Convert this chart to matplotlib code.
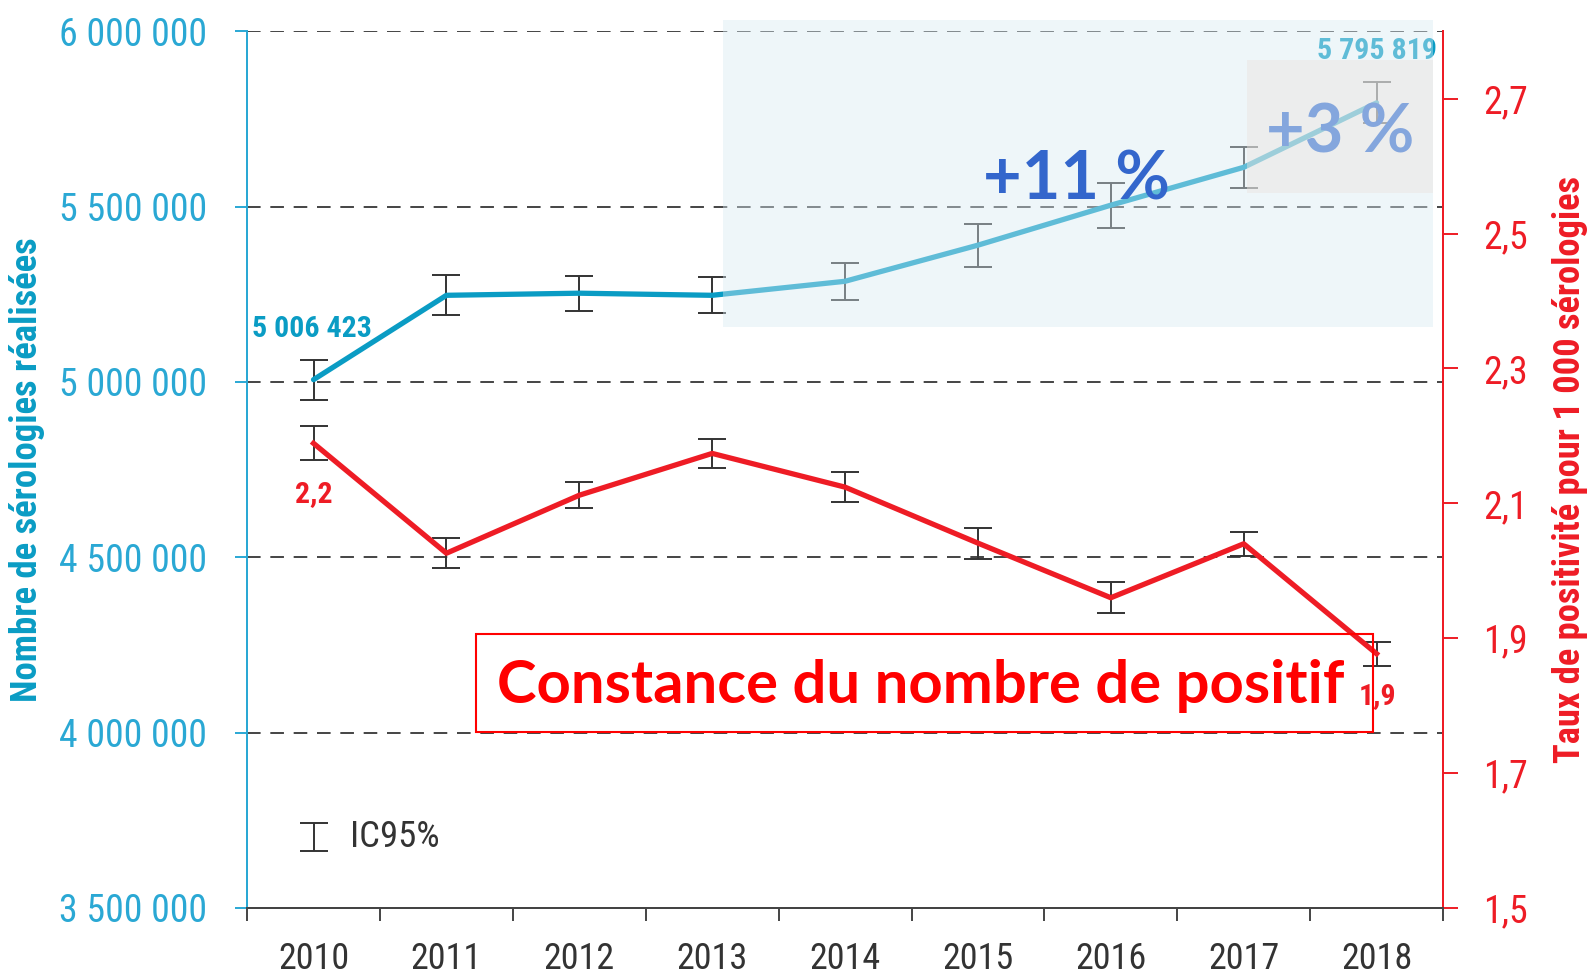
import numpy as np
import matplotlib.pyplot as plt
from matplotlib import font_manager
from matplotlib.patches import Rectangle
from matplotlib.ticker import FuncFormatter

# police étroite si disponible, sinon Liberation Sans un peu plus petite
noms = {f.name for f in font_manager.fontManager.ttflist}
choix = [('Roboto Condensed', 1.0), ('Liberation Sans Narrow', 1.0),
         ('Liberation Sans', 0.84)]
police, k = next(((n, f) for n, f in choix if n in noms), ('DejaVu Sans', 0.78))
plt.rcParams['font.family'] = [police, 'DejaVu Sans']

# données
annees = ['2010', '2011', '2012', '2013', '2014', '2015', '2016', '2017', '2018']
nb_serologies = [5006423, 5247000, 5253000, 5247000, 5287000, 5390000, 5504000, 5612000, 5795819]
ic_serologies = [57000, 57000, 50000, 51000, 53000, 61000, 64000, 58000, 58000]
taux_positivite = [2.189, 2.026, 2.112, 2.174, 2.124, 2.041, 1.960, 2.040, 1.877]
ic_taux = [0.025, 0.022, 0.019, 0.021, 0.022, 0.023, 0.023, 0.018, 0.018]
ticks_gauche = [3500000, 4000000, 4500000, 5000000, 5500000, 6000000]
ticks_droite = [1.5, 1.7, 1.9, 2.1, 2.3, 2.5, 2.7]

bleu = '#0a9cc4'
bleu_axe = '#2aa8d4'
rouge = '#ee1c25'
gris = '#333333'

x = np.arange(len(annees))

fig = plt.figure(figsize=(15.91, 9.76), dpi=100)
ax = fig.add_axes([0.1553, 0.0697, 0.7517, 0.8983])
ax2 = ax.twinx()

# grille pointillée
for v in ticks_gauche[1:]:
    ax.axhline(v, color='#444444', lw=1.4, ls=(0, (7, 5)), zorder=1)

# courbe bleue (nombre de sérologies)
ax.plot(x, nb_serologies, color=bleu, lw=3.8, zorder=3, solid_capstyle='round')
ax.errorbar(x, nb_serologies, yerr=ic_serologies, fmt='none', ecolor=gris,
            elinewidth=1.4, capsize=10, capthick=1.4, zorder=2)
ax.text(x[0] - 0.462, nb_serologies[0] + 144000, '5 006 423', color=bleu,
        fontsize=21.5 * k, fontweight='bold', ha='left', va='center')
ax.text(x[-1] + 0.454, nb_serologies[-1] + 147000, '5 795 819', color=bleu,
        fontsize=21.5 * k, fontweight='bold', ha='right', va='center', clip_on=False)

# courbe rouge (taux de positivité)
ax2.plot(x, taux_positivite, color=rouge, lw=3.8, zorder=3)
ax2.errorbar(x, taux_positivite, yerr=ic_taux, fmt='none', ecolor=gris,
             elinewidth=1.4, capsize=10, capthick=1.4, zorder=2)
ax2.text(x[0], taux_positivite[0] - 0.075, '2,2', color=rouge, fontsize=21.5 * k,
         fontweight='bold', ha='center', va='center')
ax2.text(x[-1] + 0.01, taux_positivite[-1] - 0.063, '1,9', color=rouge, fontsize=21.5 * k,
         fontweight='bold', ha='center', va='center')

# axes
ax.set_xlim(-0.5, 8.5)
ax.set_ylim(3500000, 6000000)
ax2.set_ylim(1.5, 2.8)

ax.set_yticks(ticks_gauche)
ax.yaxis.set_major_formatter(FuncFormatter(lambda v, p: f'{int(v):,}'.replace(',', ' ')))
ax.tick_params(axis='y', colors=bleu_axe, labelsize=27.3 * k, length=9, width=1.4, pad=20)
ax2.set_yticks(ticks_droite)
ax2.yaxis.set_major_formatter(FuncFormatter(lambda v, p: f'{v:.1f}'.replace('.', ',')))
ax2.tick_params(axis='y', colors=rouge, labelsize=27.3 * k, length=11, width=1.4, pad=18)

ax.set_xticks(np.arange(-0.5, 9.0, 1.0))
ax.set_xticklabels([])
ax.set_xticks(x, minor=True)
ax.set_xticklabels(annees, minor=True)
ax.tick_params(axis='x', which='major', length=9, width=1.4, color='#444444')
ax.tick_params(axis='x', which='minor', length=0, labelsize=26 * k, labelcolor=gris, pad=24)

for a in (ax, ax2):
    a.spines['top'].set_visible(False)
    a.spines['left'].set_color(bleu_axe)
    a.spines['right'].set_color(rouge)
    a.spines['bottom'].set_color('#444444')
    for s in a.spines.values():
        s.set_linewidth(1.4)

ax.set_ylabel('Nombre de sérologies réalisées', color=bleu, fontsize=26.5 * k,
              fontweight='bold')
ax.yaxis.set_label_coords(-0.169, 0.5)
ax2.set_ylabel('Taux de positivité pour 1 000 sérologies', color=rouge, fontsize=26.3 * k,
               fontweight='bold', rotation=90)
ax2.yaxis.set_label_coords(1.091, 0.5)

# légende IC95%
ax.errorbar([0.056], [0.081], yerr=[0.016], fmt='none', ecolor=gris, elinewidth=1.4,
            capsize=10, capthick=1.4, transform=ax.transAxes, clip_on=False)
ax.text(0.086, 0.081, 'IC95%', transform=ax.transAxes, color=gris, fontsize=26.5 * k,
        ha='left', va='center')

# zones d'annotation superposées
ax2.add_patch(Rectangle((3.08, 5156000), 8.424 - 3.08, 6031000 - 5156000,
                        transform=ax.transData, facecolor='#d7eaf3', alpha=0.42,
                        edgecolor='none', zorder=10, clip_on=False))
ax2.text(5.745, 5521000, '+11 %', transform=ax.transData, color='#3366cc',
         fontsize=48, fontweight='bold', family='Lato', ha='center', va='baseline',
         zorder=11)
ax2.add_patch(Rectangle((7.024, 5538000), 8.424 - 7.024, 5917000 - 5538000,
                        transform=ax.transData, facecolor='#eae4df', alpha=0.45,
                        edgecolor='none', zorder=12, clip_on=False))
ax2.text(7.724, 5655000, '+3 %', transform=ax.transData, color='#84a6dd',
         fontsize=48, fontweight='bold', family='Lato', ha='center', va='baseline',
         zorder=13, clip_on=False)

ax2.add_patch(Rectangle((1.223, 4001700), 7.973 - 1.223, 4281000 - 4001700,
                        transform=ax.transData, facecolor='none', edgecolor='#ff0000',
                        lw=1.5, zorder=13, clip_on=False))
ax2.text(1.381, 4084400, 'Constance du nombre de positif', transform=ax.transData,
         color='#ff0000', fontsize=43, fontweight='bold', family='Lato',
         ha='left', va='baseline', zorder=13)

fig.savefig('out.png', dpi=100)
